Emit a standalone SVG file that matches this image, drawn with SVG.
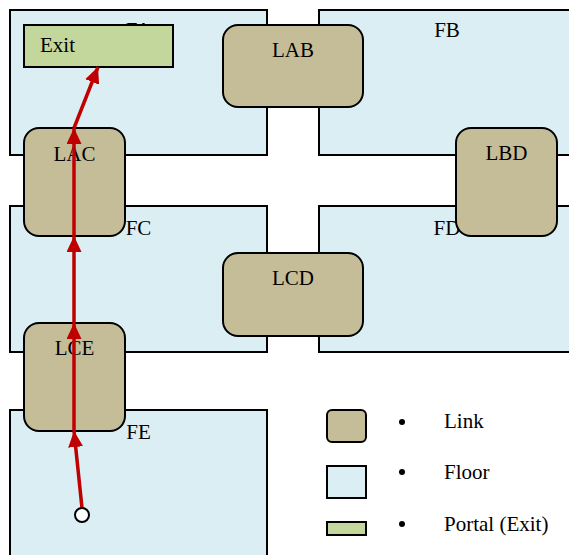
<svg xmlns="http://www.w3.org/2000/svg" width="569" height="555" viewBox="0 0 569 555">
<style>
.floor{fill:#DAEEF3;stroke:#000;stroke-width:2}
.link{fill:#C4BD97;stroke:#000;stroke-width:2}
.portal{fill:#C3D69B;stroke:#000;stroke-width:2}
.t{font-family:"Liberation Serif","Times New Roman",serif;font-size:21px;fill:#000}
.c{text-anchor:middle}
.path{stroke:#C00000;stroke-width:3.5;fill:none}
</style>
<defs>
<marker id="ah" markerUnits="userSpaceOnUse" markerWidth="17" markerHeight="16" refX="16" refY="7.5" orient="auto">
<path d="M0,0 L16,7.5 L0,15 z" fill="#C00000"/>
</marker>
</defs>
<rect width="569" height="555" fill="#fff"/>
<g id="FA"><rect class="floor" x="10" y="10" width="257" height="145"/><text class="t c" x="138.5" y="37">FA</text></g>
<g id="FB"><rect class="floor" x="319" y="10" width="257" height="145"/><text class="t c" x="447" y="37">FB</text></g>
<g id="FC"><rect class="floor" x="10" y="206" width="257" height="146"/><text class="t c" x="138.5" y="235">FC</text></g>
<g id="FD"><rect class="floor" x="319" y="206" width="257" height="146"/><text class="t c" x="447" y="235">FD</text></g>
<g id="FE"><rect class="floor" x="10" y="410" width="257" height="160"/><text class="t c" x="138.5" y="439">FE</text></g>
<g id="Exit"><rect class="portal" x="24" y="25" width="149" height="42"/><text class="t" x="40" y="52">Exit</text></g>
<g id="LAB"><rect class="link" x="223" y="25" width="140" height="82" rx="15"/><text class="t c" x="293" y="57">LAB</text></g>
<g id="LAC"><rect class="link" x="24" y="128" width="101" height="108" rx="15"/><text class="t c" x="74.5" y="161">LAC</text></g>
<g id="LBD"><rect class="link" x="456" y="128" width="101" height="108" rx="15"/><text class="t c" x="506.5" y="160">LBD</text></g>
<g id="LCD"><rect class="link" x="223" y="253" width="140" height="83" rx="15"/><text class="t c" x="293" y="285">LCD</text></g>
<g id="LCE"><rect class="link" x="24" y="323" width="101" height="108" rx="15"/><text class="t c" x="74.5" y="355">LCE</text></g>
<g id="connectors">
<line class="path" x1="82" y1="508" x2="74" y2="431" marker-end="url(#ah)"/>
<line class="path" x1="74" y1="431" x2="74" y2="323" marker-end="url(#ah)"/>
<line class="path" x1="74" y1="323" x2="74" y2="236" marker-end="url(#ah)"/>
<line class="path" x1="74" y1="236" x2="74" y2="128" marker-end="url(#ah)"/>
<line class="path" x1="74" y1="128" x2="98" y2="67" marker-end="url(#ah)"/>
</g>
<g id="start"><circle cx="82" cy="515" r="7" fill="#fff" stroke="#000" stroke-width="2"/></g>
<g id="legend">
<rect class="link" x="327" y="410" width="39" height="32" rx="5"/>
<rect class="floor" x="327" y="466" width="39" height="32"/>
<rect class="portal" x="327" y="522" width="39" height="13"/>
<circle cx="402" cy="422" r="3"/>
<circle cx="402" cy="472" r="3"/>
<circle cx="402" cy="524" r="3"/>
<text class="t" x="444" y="428">Link</text>
<text class="t" x="444" y="479">Floor</text>
<text class="t" x="444" y="531">Portal (Exit)</text>
</g>
</svg>
